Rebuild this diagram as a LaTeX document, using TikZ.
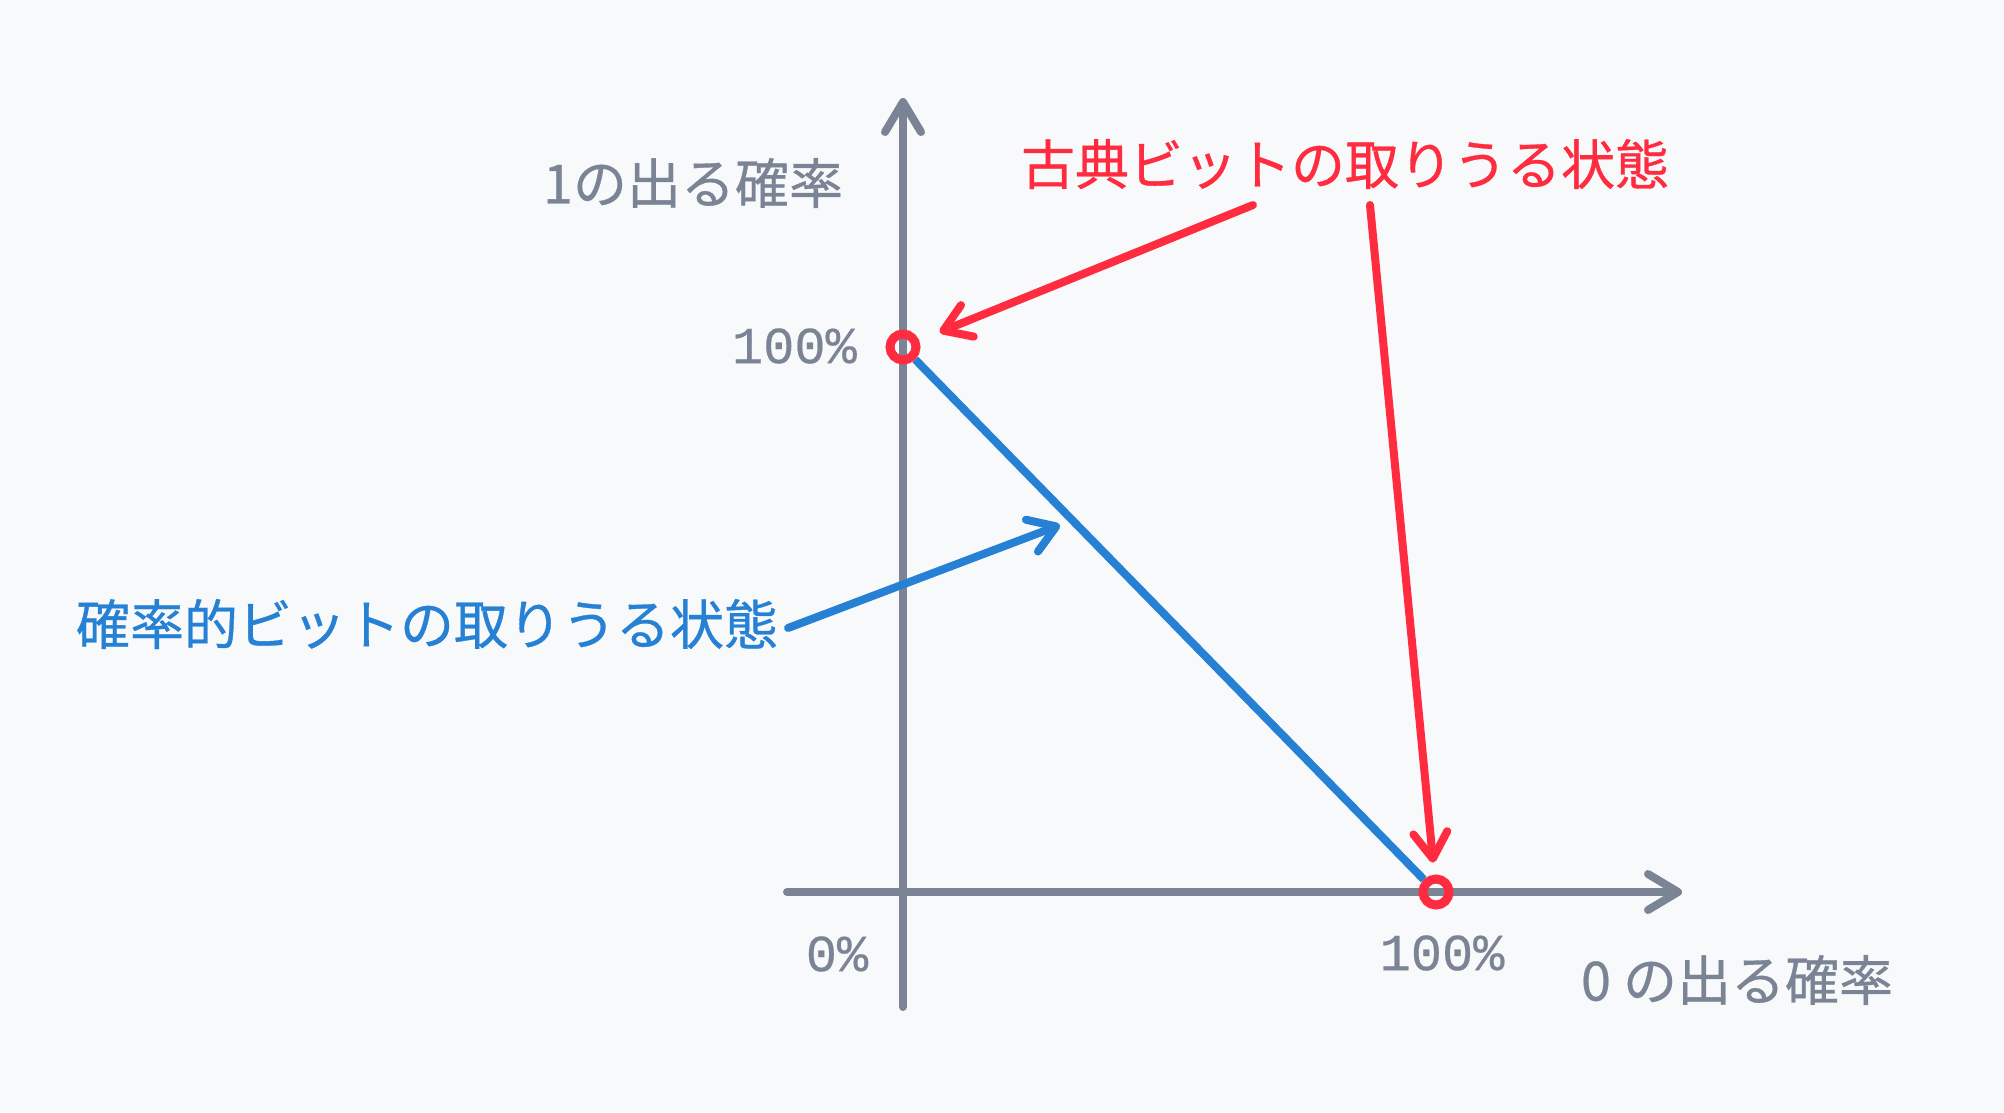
\documentclass[tikz,border=0pt]{standalone}
\usepackage{fontspec}
\setmainfont{Noto Sans CJK JP}[FakeBold=0.6]
\newfontfamily\numfont{Liberation Mono}[FakeBold=0.4]
\usetikzlibrary{arrows.meta}
\definecolor{axisgray}{HTML}{7A8494}
\definecolor{classred}{HTML}{FF2B3E}
\definecolor{probblue}{HTML}{2680D4}
\definecolor{paper}{HTML}{F7F9FB}

\begin{document}
\begin{tikzpicture}[x=1pt, y=-1pt,
  axis/.style={draw=axisgray, line width=8pt, line cap=round, -{Straight Barb[length=30pt,width=36pt,round]}},
  lbl/.style={text=axisgray, inner sep=0, font=\fontsize{54}{60}\selectfont},
  pct/.style={text=axisgray, inner sep=0, font=\fontsize{52}{56}\selectfont\numfont},
  ring/.style={circle, draw=classred, line width=9pt, minimum size=26pt, inner sep=0},
  note/.style={inner sep=0, font=\fontsize{54}{60}\selectfont},
  pointer/.style={line width=8pt, line cap=round, -{Straight Barb[length=26pt,width=34pt,round]}}
]
  \fill[paper] (0,0) rectangle (2004,1112);

  \coordinate (xo) at (787,892);
  \coordinate (xe) at (1682,892);
  \coordinate (yo) at (903,1007);
  \coordinate (ye) at (903,98);
  \draw[axis] (xo) -- (xe);
  \draw[axis] (yo) -- (ye);

  \node[lbl] (ylab) at (693,183) {1の出る確率};
  \node[lbl] (xlab) at (1737,980) {0 の出る確率};
  \node[pct, anchor=east] (y100) at (857,346) {100\%};
  \node[pct] (x0) at (837,954) {0\%};
  \node[pct] (x100) at (1442,953) {100\%};

  \node[ring] (c1) at (903,347) {};
  \node[ring] (c0) at (1436,892) {};
  \draw[probblue, line width=8pt] (c1) -- (c0);

  \node[note, text=classred] (classic) at (1345,164) {古典ビットの取りうる状態};
  \node[note, text=probblue] (prob) at (427,624) {確率的ビットの取りうる状態};

  \coordinate (r1) at (1253,205);
  \coordinate (r2) at (1370,205);
  \coordinate (b1) at (788,628);
  \coordinate (b2) at (1060,525);
  \draw[pointer, classred, shorten >=22pt] (r1) -- (c1);
  \draw[pointer, classred, shorten >=12pt] (r2) -- (c0);
  \draw[pointer, probblue] (b1) -- (b2);
\end{tikzpicture}
\end{document}
